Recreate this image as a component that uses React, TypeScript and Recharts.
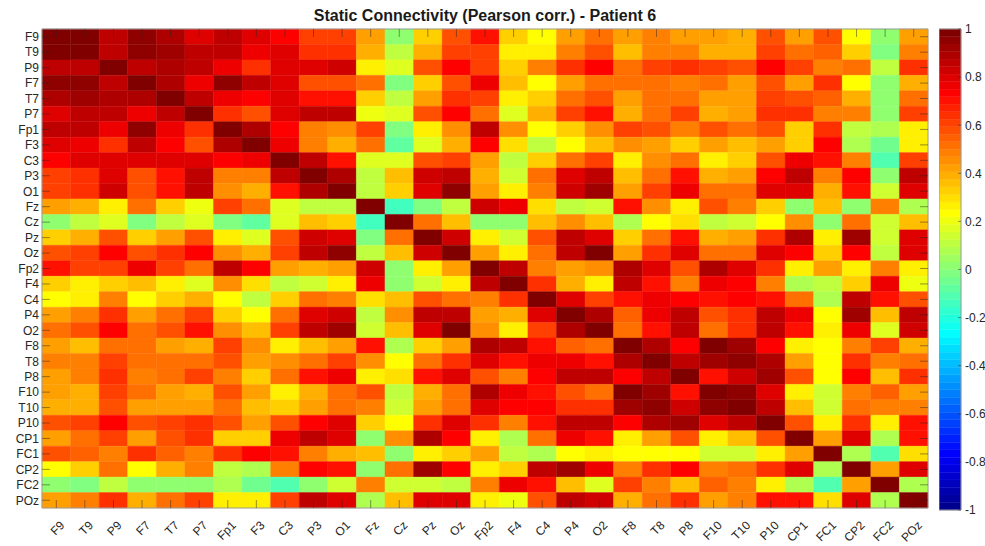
import React from 'react';
import { ComposedChart, XAxis, YAxis, ReferenceArea } from 'recharts';

// EEG channels, in matrix order (rows top to bottom, columns left to right)
const CHANNELS = [
  'F9', 'T9', 'P9', 'F7', 'T7', 'P7', 'Fp1', 'F3', 'C3', 'P3', 'O1',
  'Fz', 'Cz', 'Pz', 'Oz', 'Fp2', 'F4', 'C4', 'P4', 'O2', 'F8', 'T8',
  'P8', 'F10', 'T10', 'P10', 'CP1', 'FC1', 'CP2', 'FC2', 'POz',
];

// Lower triangle of the Pearson correlation matrix: row i holds corr(i, 0..i-1)
const LOWER: number[][] = [
  [],
  [0.98],
  [0.85, 0.87],
  [0.95, 0.95, 0.87],
  [0.9, 0.91, 0.9, 0.9],
  [0.8, 0.85, 0.86, 0.78, 0.87],
  [0.87, 0.85, 0.78, 0.94, 0.78, 0.63],
  [0.8, 0.75, 0.63, 0.87, 0.73, 0.57, 0.9],
  [0.73, 0.8, 0.8, 0.8, 0.8, 0.8, 0.73, 0.75],
  [0.6, 0.65, 0.8, 0.57, 0.7, 0.85, 0.47, 0.47, 0.87],
  [0.6, 0.65, 0.82, 0.57, 0.7, 0.85, 0.45, 0.4, 0.7, 0.9],
  [0.43, 0.38, 0.28, 0.5, 0.32, 0.2, 0.6, 0.53, 0.18, 0.1, 0.12],
  [0.0, 0.1, 0.18, -0.03, 0.12, 0.18, -0.03, -0.08, 0.18, 0.35, 0.32, -0.15],
  [0.33, 0.4, 0.57, 0.32, 0.43, 0.57, 0.25, 0.18, 0.57, 0.82, 0.8, -0.03, 0.53],
  [0.57, 0.62, 0.73, 0.57, 0.63, 0.73, 0.45, 0.38, 0.62, 0.87, 0.95, 0.1, 0.35, 0.82],
  [0.7, 0.6, 0.6, 0.75, 0.6, 0.5, 0.86, 0.73, 0.43, 0.38, 0.43, 0.83, 0.0, 0.25, 0.43],
  [0.32, 0.25, 0.33, 0.35, 0.25, 0.18, 0.45, 0.3, 0.1, 0.15, 0.27, 0.75, 0.0, 0.15, 0.25, 0.86],
  [0.22, 0.25, 0.48, 0.22, 0.32, 0.4, 0.23, 0.1, 0.32, 0.5, 0.48, 0.3, 0.35, 0.58, 0.53, 0.48, 0.65],
  [0.43, 0.47, 0.65, 0.42, 0.52, 0.6, 0.33, 0.23, 0.53, 0.8, 0.82, 0.12, 0.45, 0.87, 0.87, 0.43, 0.38, 0.8],
  [0.5, 0.57, 0.73, 0.5, 0.57, 0.7, 0.45, 0.35, 0.6, 0.85, 0.92, 0.15, 0.35, 0.8, 0.98, 0.45, 0.27, 0.6, 0.9],
  [0.42, 0.35, 0.53, 0.52, 0.42, 0.38, 0.6, 0.45, 0.28, 0.35, 0.43, 0.7, 0.08, 0.33, 0.43, 0.9, 0.87, 0.7, 0.55, 0.52],
  [0.48, 0.48, 0.62, 0.53, 0.53, 0.5, 0.58, 0.42, 0.45, 0.53, 0.6, 0.45, 0.22, 0.53, 0.64, 0.8, 0.7, 0.78, 0.75, 0.7, 0.9],
  [0.43, 0.48, 0.63, 0.48, 0.53, 0.6, 0.48, 0.32, 0.5, 0.7, 0.75, 0.25, 0.3, 0.7, 0.8, 0.57, 0.48, 0.73, 0.87, 0.87, 0.73, 0.87],
  [0.42, 0.38, 0.6, 0.5, 0.43, 0.38, 0.58, 0.42, 0.28, 0.38, 0.5, 0.57, 0.1, 0.38, 0.5, 0.9, 0.78, 0.7, 0.57, 0.53, 0.98, 0.92, 0.7],
  [0.38, 0.38, 0.58, 0.43, 0.43, 0.43, 0.53, 0.35, 0.32, 0.43, 0.53, 0.47, 0.15, 0.43, 0.53, 0.8, 0.72, 0.73, 0.65, 0.63, 0.92, 0.95, 0.82, 0.95],
  [0.58, 0.62, 0.72, 0.58, 0.62, 0.65, 0.57, 0.42, 0.57, 0.72, 0.8, 0.32, 0.22, 0.63, 0.8, 0.63, 0.48, 0.7, 0.85, 0.86, 0.73, 0.9, 0.92, 0.8, 0.87],
  [0.43, 0.5, 0.62, 0.43, 0.57, 0.65, 0.33, 0.33, 0.75, 0.87, 0.8, 0.0, 0.45, 0.88, 0.73, 0.25, 0.07, 0.52, 0.75, 0.7, 0.25, 0.42, 0.58, 0.28, 0.35, 0.58],
  [0.58, 0.55, 0.48, 0.63, 0.55, 0.48, 0.65, 0.73, 0.7, 0.47, 0.38, 0.35, 0.0, 0.25, 0.33, 0.42, 0.12, 0.07, 0.22, 0.28, 0.22, 0.23, 0.23, 0.15, 0.15, 0.28, 0.43],
  [0.23, 0.33, 0.53, 0.22, 0.38, 0.47, 0.12, 0.07, 0.47, 0.73, 0.7, 0.0, 0.5, 0.92, 0.73, 0.28, 0.32, 0.85, 0.92, 0.75, 0.47, 0.63, 0.72, 0.47, 0.52, 0.65, 0.8, 0.07],
  [0.0, -0.03, 0.12, 0.03, 0.03, 0.03, 0.07, -0.05, -0.12, 0.0, 0.15, 0.47, 0.15, 0.15, 0.12, 0.47, 0.75, 0.7, 0.35, 0.18, 0.62, 0.48, 0.35, 0.55, 0.48, 0.27, 0.07, -0.12, 0.42],
  [0.42, 0.47, 0.64, 0.4, 0.5, 0.6, 0.25, 0.25, 0.6, 0.85, 0.8, 0.07, 0.35, 0.8, 0.8, 0.28, 0.2, 0.57, 0.86, 0.82, 0.38, 0.5, 0.63, 0.42, 0.47, 0.7, 0.7, 0.3, 0.8, 0.08],
];

const COLORBAR_TICKS = [-1, -0.8, -0.6, -0.4, -0.2, 0, 0.2, 0.4, 0.6, 0.8, 1];
const COLOR_MIN = -1;
const COLOR_MAX = 1;
const COLOR_LEVELS = 64;

const TITLE = 'Static Connectivity (Pearson corr.) - Patient 6';

// ---- layout ----
const WIDTH = 985;
const HEIGHT = 546;
const MARGIN = { top: 29, right: 57, bottom: 0, left: 0 };
const Y_AXIS_W = 42;
const X_AXIS_H = 38;
const PLOT_LEFT = MARGIN.left + Y_AXIS_W;
const PLOT_RIGHT = WIDTH - MARGIN.right;
const PLOT_TOP = MARGIN.top;
const PLOT_BOTTOM = HEIGHT - MARGIN.bottom - X_AXIS_H;
const TICK_LEN = 8;
const FONT = '"Liberation Sans", Arial, Helvetica, sans-serif';
const TEXT_COLOR = '#262626';
const TICK_COLOR = 'rgba(38,38,38,0.6)';
const FRAME_COLOR = '#9c9c9c';

// colorbar layout
const CB_LEFT = 939;
const CB_WIDTH = WIDTH - CB_LEFT;
const CB_AXIS_W = 24;
const CB_X_AXIS_H = 2;
const CB_MARGIN = { top: 29, right: 0, bottom: 34, left: 0 };
const CB_RIGHT = CB_WIDTH - CB_AXIS_W;

// MATLAB-style jet colormap with m levels
function jet(m: number): string[] {
  const n = Math.ceil(m / 4);
  const u: number[] = [];
  for (let i = 1; i <= n; i++) u.push(i / n);
  for (let i = 0; i < n - 1; i++) u.push(1);
  for (let i = n; i >= 1; i--) u.push(i / n);
  const g0 = Math.ceil(n / 2) - (m % 4 === 1 ? 1 : 0);
  const rgb = Array.from({ length: m }, () => [0, 0, 0]);
  u.forEach((val, k) => {
    const g = g0 + k + 1;
    const r = g + n;
    const b = g - n;
    if (r >= 1 && r <= m) rgb[r - 1][0] = val;
    if (g >= 1 && g <= m) rgb[g - 1][1] = val;
    if (b >= 1 && b <= m) rgb[b - 1][2] = val;
  });
  return rgb.map(
    ([r, g, b]) => `rgb(${Math.round(r * 255)},${Math.round(g * 255)},${Math.round(b * 255)})`
  );
}

const JET = jet(COLOR_LEVELS);

function colorOf(v: number): string {
  const t = (v - COLOR_MIN) / (COLOR_MAX - COLOR_MIN);
  const idx = Math.max(0, Math.min(COLOR_LEVELS - 1, Math.floor(t * COLOR_LEVELS)));
  return JET[idx];
}

function corr(i: number, j: number): number {
  if (i === j) return 1;
  return i > j ? LOWER[i][j] : LOWER[j][i];
}

const N = CHANNELS.length;
const cells = CHANNELS.flatMap((_, row) =>
  CHANNELS.map((__, col) => ({ row, col, value: corr(row, col) }))
);
const centerTicks = CHANNELS.map((_, i) => i + 0.5);

const colorbarLevels = JET.map((fill, k) => ({
  lo: COLOR_MIN + (k * (COLOR_MAX - COLOR_MIN)) / COLOR_LEVELS,
  hi: COLOR_MIN + ((k + 1) * (COLOR_MAX - COLOR_MIN)) / COLOR_LEVELS,
  fill,
}));

const YTick = (props: any) => {
  const { x, y, payload } = props;
  const name = CHANNELS[Math.floor(payload.value)];
  return (
    <g>
      <line x1={PLOT_LEFT} x2={PLOT_LEFT + TICK_LEN} y1={y} y2={y} stroke={TICK_COLOR} strokeWidth={0.8} />
      <line x1={PLOT_RIGHT - TICK_LEN} x2={PLOT_RIGHT} y1={y} y2={y} stroke={TICK_COLOR} strokeWidth={0.8} />
      <text x={x} y={y} dy="0.36em" textAnchor="end" fontSize={12} fontFamily={FONT} fill={TEXT_COLOR}>
        {name}
      </text>
    </g>
  );
};

const XTick = (props: any) => {
  const { x, payload } = props;
  const name = CHANNELS[Math.floor(payload.value)];
  const ax = x + 9;
  const ay = PLOT_BOTTOM + 18;
  return (
    <g>
      <line x1={x} x2={x} y1={PLOT_BOTTOM} y2={PLOT_BOTTOM - TICK_LEN} stroke={TICK_COLOR} strokeWidth={0.8} />
      <line x1={x} x2={x} y1={PLOT_TOP} y2={PLOT_TOP + TICK_LEN} stroke={TICK_COLOR} strokeWidth={0.8} />
      <text
        transform={`translate(${ax},${ay}) rotate(-45)`}
        textAnchor="end"
        fontSize={12}
        fontFamily={FONT}
        fill={TEXT_COLOR}
      >
        {name}
      </text>
    </g>
  );
};

const CbTick = (props: any) => {
  const { x, y, payload } = props;
  return (
    <g>
      <line x1={CB_RIGHT - 3} x2={CB_RIGHT} y1={y} y2={y} stroke={TICK_COLOR} strokeWidth={0.8} />
      <text x={x} y={y} dy="0.36em" textAnchor="start" fontSize={12} fontFamily={FONT} fill={TEXT_COLOR}>
        {String(payload.value)}
      </text>
    </g>
  );
};

// axes of the correlation matrix; `decorated` draws labels and tick marks
function matrixAxes(decorated: boolean) {
  return [
    <XAxis
      key="x"
      type="number"
      dataKey="col"
      domain={[0, N]}
      ticks={centerTicks}
      interval={0}
      height={X_AXIS_H}
      axisLine={false}
      tickLine={false}
      tickSize={0}
      tickMargin={0}
      tick={decorated ? <XTick /> : false}
      allowDataOverflow
    />,
    <YAxis
      key="y"
      type="number"
      dataKey="row"
      domain={[0, N]}
      reversed
      ticks={centerTicks}
      interval={0}
      width={Y_AXIS_W}
      axisLine={false}
      tickLine={false}
      tickSize={0}
      tickMargin={3}
      tick={decorated ? <YTick /> : false}
      allowDataOverflow
    />,
  ];
}

function colorbarAxes(decorated: boolean) {
  return [
    <XAxis
      key="x"
      type="number"
      dataKey="pos"
      domain={[0, 1]}
      height={CB_X_AXIS_H}
      axisLine={false}
      tickLine={false}
      tick={false}
      allowDataOverflow
    />,
    <YAxis
      key="y"
      type="number"
      dataKey="level"
      orientation="right"
      domain={[COLOR_MIN, COLOR_MAX]}
      ticks={COLORBAR_TICKS}
      interval={0}
      width={CB_AXIS_W}
      axisLine={false}
      tickLine={false}
      tickSize={0}
      tickMargin={4}
      tick={decorated ? <CbTick /> : false}
      allowDataOverflow
    />,
  ];
}

const layer: React.CSSProperties = { position: 'absolute', top: 0 };

export default function App() {
  return (
    <div
      style={{
        position: 'absolute',
        left: 0,
        top: 0,
        width: WIDTH,
        height: HEIGHT,
        background: '#ffffff',
        fontFamily: FONT,
      }}
    >
      {/* matrix cells */}
      <div style={{ ...layer, left: 0 }}>
        <ComposedChart width={WIDTH} height={HEIGHT} margin={MARGIN}>
          {matrixAxes(false)}
          {cells.map((c) => (
            <ReferenceArea
              key={`${c.row}-${c.col}`}
              x1={c.col}
              x2={c.col + 1}
              y1={c.row}
              y2={c.row + 1}
              fill={colorOf(c.value)}
              fillOpacity={1}
              stroke={colorOf(c.value)}
              strokeWidth={0.4}
              ifOverflow="visible"
            />
          ))}
        </ComposedChart>
      </div>

      {/* frame, ticks and labels drawn over the cells */}
      <div style={{ ...layer, left: 0 }}>
        <ComposedChart width={WIDTH} height={HEIGHT} margin={MARGIN}>
          {matrixAxes(true)}
          <ReferenceArea
            x1={0}
            x2={N}
            y1={0}
            y2={N}
            fill="none"
            fillOpacity={0}
            stroke={FRAME_COLOR}
            strokeWidth={1}
            ifOverflow="visible"
          />
        </ComposedChart>
      </div>

      {/* colorbar */}
      <div style={{ ...layer, left: CB_LEFT }}>
        <ComposedChart width={CB_WIDTH} height={HEIGHT} margin={CB_MARGIN}>
          {colorbarAxes(false)}
          {colorbarLevels.map((lv, k) => (
            <ReferenceArea
              key={k}
              x1={0}
              x2={1}
              y1={lv.lo}
              y2={lv.hi}
              fill={lv.fill}
              fillOpacity={1}
              stroke={lv.fill}
              strokeWidth={0.4}
              ifOverflow="visible"
            />
          ))}
        </ComposedChart>
      </div>
      <div style={{ ...layer, left: CB_LEFT }}>
        <ComposedChart width={CB_WIDTH} height={HEIGHT} margin={CB_MARGIN}>
          {colorbarAxes(true)}
          <ReferenceArea
            x1={0}
            x2={1}
            y1={COLOR_MIN}
            y2={COLOR_MAX}
            fill="none"
            fillOpacity={0}
            stroke={FRAME_COLOR}
            strokeWidth={1}
            ifOverflow="visible"
          />
        </ComposedChart>
      </div>

      <div
        style={{
          position: 'absolute',
          left: PLOT_LEFT,
          width: PLOT_RIGHT - PLOT_LEFT,
          top: 6,
          textAlign: 'center',
          fontSize: 16,
          fontWeight: 'bold',
          color: '#1a1a1a',
          lineHeight: '20px',
          whiteSpace: 'nowrap',
        }}
      >
        {TITLE}
      </div>
    </div>
  );
}
